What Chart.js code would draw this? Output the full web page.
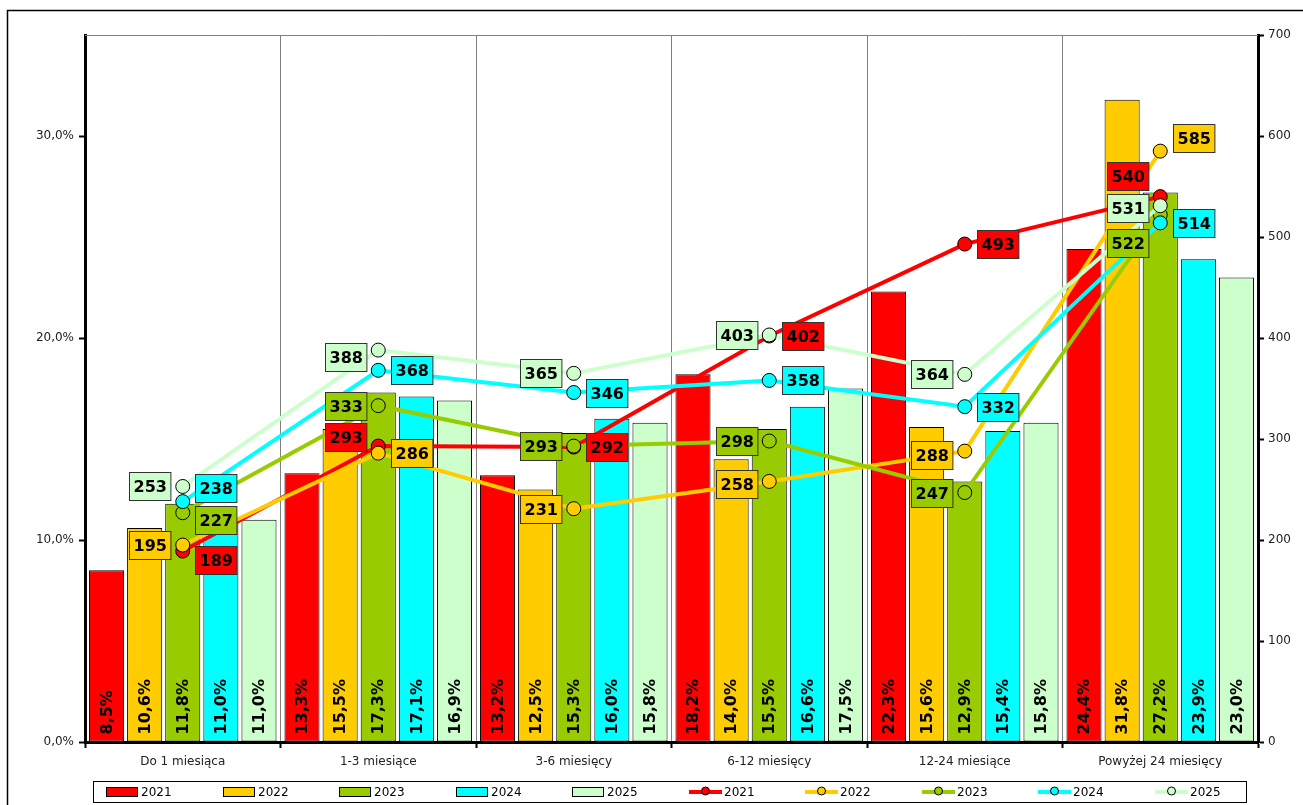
<!DOCTYPE html>
<html>
<head>
<meta charset="utf-8">
<script src="https://cdn.jsdelivr.net/npm/chart.js@4"></script>
<style>
  html, body { margin: 0; padding: 0; background: #fff; }
  #wrap { position: relative; width: 1303px; height: 805px; }
</style>
</head>
<body>
<div id="wrap"><canvas id="chart"></canvas></div>
<script>
// ─── DATA ───
const categories = ['Do 1 miesiąca', '1-3 miesiące', '3-6 miesięcy', '6-12 miesięcy', '12-24 miesiące', 'Powyżej 24 miesięcy'];
const years = ['2021', '2022', '2023', '2024', '2025'];

// share per year (%), bars on the left axis
const share2021 = [8.5, 13.3, 13.2, 18.2, 22.3, 24.4];
const share2022 = [10.6, 15.5, 12.5, 14.0, 15.6, 31.8];
const share2023 = [11.8, 17.3, 15.3, 15.5, 12.9, 27.2];
const share2024 = [11.0, 17.1, 16.0, 16.6, 15.4, 23.9];
const share2025 = [11.0, 16.9, 15.8, 17.5, 15.8, 23.0];

// counts per year, lines on the right axis
const count2021 = [189, 293, 292, 402, 493, 540];
const count2022 = [195, 286, 231, 258, 288, 585];
const count2023 = [227, 333, 293, 298, 247, 522];
const count2024 = [238, 368, 346, 358, 332, 514];
const count2025 = [253, 388, 365, 403, 364, 531];

const leftTicks = [0, 10, 20, 30];
const rightTicks = [0, 100, 200, 300, 400, 500, 600, 700];

// ─── STYLE ───
const COLORS = ['#ff0000', '#ffcc00', '#99cc00', '#00ffff', '#ccffcc'];
const FONT = "'DejaVu Sans', Verdana, sans-serif";

// where each count label sits next to its point: side + vertical nudge (px)
const countLabelPlace = [
  [['R', 9], ['L', -9], ['R', 0], ['R', 0], ['R', 0], ['L', -21]],
  [['L', 0], ['R', 0], ['L', 0], ['L', 3], ['L', 4], ['R', -13]],
  [['R', 7], ['L', 0], ['L', 0], ['L', 0], ['L', 0], ['L', 28]],
  [['R', -14], ['R', 0], ['R', 0], ['R', 0], ['R', 0], ['R', 0]],
  [['L', 0], ['L', 7], ['L', 0], ['L', 0], ['L', 0], ['L', 2]],
];

const shares = [share2021, share2022, share2023, share2024, share2025];
const counts = [count2021, count2022, count2023, count2024, count2025];

const fmtPct = v => v.toFixed(1).replace('.', ',') + '%';

const datasets = [];
shares.forEach((d, i) => datasets.push({
  type: 'bar', label: years[i], data: d, yAxisID: 'y',
  backgroundColor: COLORS[i], borderColor: '#000', borderWidth: 1, borderSkipped: false,
  categoryPercentage: 0.975, barPercentage: 0.92, order: 10 + i,
}));
counts.forEach((d, i) => datasets.push({
  type: 'line', label: years[i], data: d, yAxisID: 'y2',
  borderColor: COLORS[i], backgroundColor: COLORS[i], borderWidth: 4,
  pointRadius: 7, pointBackgroundColor: COLORS[i], pointBorderColor: '#000', pointBorderWidth: 1,
  tension: 0, order: 5 - i, seriesIndex: i,
}));

// ─── PLUGINS ───
const decor = {
  id: 'decor',
  beforeDatasetsDraw(chart) {
    const { ctx, chartArea: a } = chart;
    ctx.save();
    ctx.strokeStyle = '#808080';
    ctx.lineWidth = 1;
    ctx.beginPath();
    ctx.moveTo(a.left, a.top + 0.5);
    ctx.lineTo(a.right, a.top + 0.5);
    ctx.stroke();
    ctx.restore();
  },
  afterDatasetsDraw(chart) {
    const ctx = chart.ctx;
    ctx.save();
    // rotated share labels inside bars
    ctx.font = `bold 16px ${FONT}`;
    ctx.fillStyle = '#000';
    chart.data.datasets.forEach((ds, di) => {
      if (ds.type !== 'bar') return;
      chart.getDatasetMeta(di).data.forEach((el, j) => {
        ctx.save();
        ctx.translate(el.x + 1, el.base - 7);
        ctx.rotate(-Math.PI / 2);
        ctx.textAlign = 'left';
        ctx.textBaseline = 'middle';
        ctx.fillText(fmtPct(ds.data[j]), 0, 0);
        ctx.restore();
      });
    });
    // boxed count labels beside points
    ctx.textAlign = 'center';
    ctx.textBaseline = 'middle';
    chart.data.datasets.forEach((ds, di) => {
      if (ds.type !== 'line') return;
      const s = ds.seriesIndex;
      chart.getDatasetMeta(di).data.forEach((pt, j) => {
        const [side, dy] = countLabelPlace[s][j];
        const txt = String(ds.data[j]);
        const w = ctx.measureText(txt).width + 8, h = 28;
        const cx = pt.x + (side === 'R' ? 33 : -33);
        const cy = pt.y + dy;
        const x0 = Math.round(cx - w / 2) + 0.5, y0 = Math.round(cy - h / 2) + 0.5;
        ctx.fillStyle = COLORS[s];
        ctx.fillRect(x0, y0, w, h);
        ctx.strokeStyle = '#333';
        ctx.lineWidth = 1;
        ctx.strokeRect(x0, y0, w, h);
        ctx.fillStyle = '#000';
        ctx.fillText(txt, x0 + w / 2, y0 + h / 2 + 1);
      });
    });
    ctx.restore();
  },
  afterDraw(chart) {
    const ctx = chart.ctx;
    ctx.save();
    // outer frame
    ctx.strokeStyle = '#000';
    ctx.lineWidth = 1.5;
    ctx.strokeRect(7.5, 10.5, 1400, 900);
    // legend box
    ctx.fillStyle = '#fff';
    ctx.fillRect(93.5, 781.5, 1153, 21);
    ctx.lineWidth = 1;
    ctx.strokeRect(93.5, 781.5, 1153, 21);
    ctx.font = `12px ${FONT}`;
    ctx.textAlign = 'left';
    ctx.textBaseline = 'middle';
    const step = 116.5;
    for (let k = 0; k < 10; k++) {
      const s = k % 5;
      const x0 = Math.round(106 + k * step);
      if (k < 5) {
        ctx.fillStyle = COLORS[s];
        ctx.fillRect(x0 + 0.5, 787.5, 31, 9);
        ctx.strokeStyle = '#000';
        ctx.strokeRect(x0 + 0.5, 787.5, 31, 9);
      } else {
        ctx.strokeStyle = COLORS[s];
        ctx.lineWidth = 4;
        ctx.beginPath();
        ctx.moveTo(x0, 792);
        ctx.lineTo(x0 + 33, 792);
        ctx.stroke();
        ctx.lineWidth = 1;
        ctx.beginPath();
        ctx.arc(x0 + 16.5, 791, 4, 0, Math.PI * 2);
        ctx.fillStyle = COLORS[s];
        ctx.fill();
        ctx.strokeStyle = '#000';
        ctx.stroke();
      }
      ctx.fillStyle = '#000';
      ctx.fillText(years[s], x0 + 35, 793);
    }
    ctx.restore();
  },
};

// ─── CHART ───
const tickFont = { family: FONT, size: 12 };
new Chart(document.getElementById('chart'), {
  data: { labels: categories, datasets },
  options: {
    responsive: true,
    maintainAspectRatio: false,
    animation: false,
    layout: { padding: { top: 35, left: 0, right: 0, bottom: 0 } },
    plugins: { legend: { display: false }, tooltip: { enabled: false } },
    scales: {
      x: {
        offset: true,
        grid: { offset: true, color: '#808080', lineWidth: 1, tickColor: '#000', tickWidth: 2, tickLength: 6 },
        border: { color: '#000', width: 3 },
        ticks: { font: { family: FONT, size: 12 }, color: '#222', padding: 7, maxRotation: 0, autoSkip: false },
        afterFit: s => { s.height = 63; },
      },
      y: {
        position: 'left', min: 0, max: 35,
        afterBuildTicks: s => { s.ticks = leftTicks.map(v => ({ value: v })); },
        ticks: { font: tickFont, color: '#222', padding: 5, callback: v => fmtPct(v) },
        grid: { drawOnChartArea: false, tickLength: 6, tickWidth: 2, tickColor: '#000' },
        border: { color: '#000', width: 3 },
        afterFit: s => { s.width = 85; },
      },
      y2: {
        position: 'right', min: 0, max: 700,
        afterBuildTicks: s => { s.ticks = rightTicks.map(v => ({ value: v })); },
        ticks: { font: tickFont, color: '#222', padding: 4 },
        grid: { drawOnChartArea: false, tickLength: 6, tickWidth: 2, tickColor: '#000' },
        border: { color: '#000', width: 3 },
        afterFit: s => { s.width = 45; },
      },
    },
  },
  plugins: [decor],
});
</script>
</body>
</html>
